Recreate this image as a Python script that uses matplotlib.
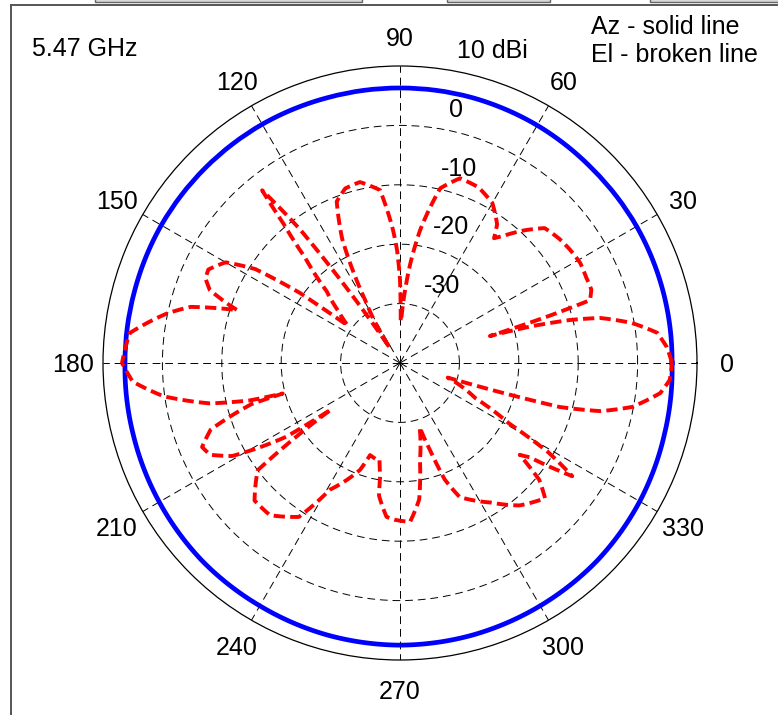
import numpy as np
import matplotlib
matplotlib.use("Agg")
import matplotlib.pyplot as plt
from matplotlib.lines import Line2D
from matplotlib.patches import Rectangle

plt.rcParams['font.family'] = ['Liberation Sans', 'DejaVu Sans']

# ---------------- data ----------------
az_angles_deg = [0, 15, 30, 45, 60, 75, 90, 105, 120, 135, 150, 165,
                 180, 195, 210, 225, 240, 255, 270, 285, 300, 315, 330, 345]
az_gain_dbi = [5.8, 5.9, 6.0, 6.0, 6.2, 6.3, 6.3, 6.3, 6.4, 6.4, 6.4, 6.3,
               6.3, 6.5, 6.8, 7.1, 7.2, 7.4, 7.5, 7.4, 7.2, 7.0, 6.6, 6.1]

el_angles_deg = [0, 3.4, 6.7, 9.8, 12.7, 14.2, 15.6, 16.7, 17.5, 18.3, 21, 24.7,
                 29, 33.6, 38, 43, 47, 51, 53, 55, 60, 66, 72, 77, 81.4, 84, 86,
                 88, 89, 90, 91.5, 93, 96.6, 102.5, 107.4, 111.4, 115, 119, 122,
                 124, 125.5, 126.8, 128.6, 129.9, 132, 135.6, 140, 144.4, 145,
                 147, 150, 154, 156.5, 159, 161, 162, 165, 168, 173.7, 180, 184,
                 188, 192, 194, 194.6, 195.5, 199.4, 203, 205.8, 209, 211, 213,
                 214, 215.5, 217, 223.4, 229.5, 236.7, 241, 249.5, 252, 256, 258,
                 260, 261, 265, 268, 273.6, 278, 281.6, 287, 289, 291, 294, 303,
                 310, 317, 320, 322.5, 324, 326.7, 329, 331, 335, 343, 344.6,
                 346.5, 349.3, 353.4, 356.4]
el_gain_dbi = [5.8, 5.0, 3.6, -0.4, -5.5, -10.5, -17, -24.2, -14, -6.3, -5.5, -5.5,
               -5.3, -5.6, -6.0, -6.7, -9.5, -12.5, -13.7, -11.5, -8.9, -7.6, -7.3,
               -9.8, -17.4, -23, -27.7, -32, -33, -26, -21, -17.6, -10.7, -8.8,
               -9.2, -10.8, -17, -27.9, -33, -37, -24, -12, -2.8, -9.4, -16.1,
               -22.7, -26.5, -29.2, -19.5, -11, -6.1, -4.1, -4.3, -5.7, -9.2,
               -11.2, -3.5, 0.1, 5.8, 6.8, 5.1, 0.2, -7.3, -14, -19.6, -14, -6.2,
               -3.8, -4.5, -7.7, -12.4, -17.3, -26, -18, -10, -6.3, -6.3, -9.0,
               -15.6, -20.8, -23.7, -23.3, -23.4, -20.8, -17.4, -14, -13.6, -13.2,
               -16.8, -23.3, -28.7, -24.5, -19, -15.3, -12, -8.7, -6.6, -9.4,
               -14.6, -13, -5.3, -11, -19, -26, -31.6, -12.1, -5.3, -0.2, 4.1, 5.5]

ring_values = [-30, -20, -10, 0]
ring_labels = ['-30', '-20', '-10', '0']
outer_label = '10 dBi'
r_min, r_max = -40, 10
spoke_angles = list(range(0, 360, 30))
spoke_labels = [str(a) for a in spoke_angles]

freq_text = '5.47 GHz'
legend_lines = ['Az - solid line', 'El - broken line']

# ---------------- figure ----------------
W, H = 778, 715
dpi = 100
fig = plt.figure(figsize=(W / dpi, H / dpi), dpi=dpi)
fig.patch.set_facecolor('white')

cx, cy, R = 400, 363, 297  # pixel geometry of the polar area
ax = fig.add_axes([(cx - R) / W, (H - cy - R) / H, 2 * R / W, 2 * R / H],
                  projection='polar')
ax.set_theta_zero_location('E')
ax.set_theta_direction(1)
ax.set_rlim(r_min, r_max)
ax.set_facecolor('white')

grid_kw = dict(color='black', lw=0.7, ls=(0, (8, 5)))
ax.set_thetagrids(spoke_angles, labels=[''] * len(spoke_angles))
ax.set_rgrids(ring_values, labels=[''] * len(ring_values))
ax.grid(True, **grid_kw)
ax.spines['polar'].set_color('black')
ax.spines['polar'].set_linewidth(0.9)
ax.tick_params(axis='both', length=0)

def closed(a, v):
    t = np.deg2rad(np.asarray(a + [a[0] + 360], dtype=float))
    return t, np.asarray(v + [v[0]], dtype=float)

t_az, r_az = closed(az_angles_deg, az_gain_dbi)
ln_az, = ax.plot(t_az, r_az, color='#0000ff', lw=3.4, solid_joinstyle='round', zorder=5)
ln_az.get_path()._interpolation_steps = 40

t_el, r_el = closed(el_angles_deg, el_gain_dbi)
ln_el, = ax.plot(t_el, r_el, color='#ff0000', lw=2.8, ls=(0, (2.9, 1.35)), zorder=6)
ln_el.get_path()._interpolation_steps = 12

fs = 18
label_r = r_min + 1.1 * (r_max - r_min)
for ang, lab in zip(spoke_angles, spoke_labels):
    ax.text(np.deg2rad(ang), label_r, lab, ha='center', va='center_baseline',
            fontsize=fs, clip_on=False)

for val, lab in zip(ring_values + [r_max], ring_labels + [outer_label]):
    ax.annotate(lab, xy=(np.deg2rad(82), val), xytext=(16, 11),
                textcoords='offset pixels', ha='left', va='baseline',
                fontsize=fs, annotation_clip=False)

fig.text(32 / W, 1 - 47 / H, freq_text, ha='left', va='center_baseline', fontsize=fs)
fig.text(591 / W, 1 - 25 / H, legend_lines[0], ha='left', va='center_baseline', fontsize=fs)
fig.text(591 / W, 1 - 52 / H, legend_lines[1], ha='left', va='center_baseline', fontsize=fs)

# window frame
frame_c = '#555555'
fig.add_artist(Line2D([11 / W, 11 / W], [0, 1 - 4.5 / H], color=frame_c, lw=1.4,
                      transform=fig.transFigure))
fig.add_artist(Line2D([11 / W, 1], [1 - 4.5 / H, 1 - 4.5 / H], color=frame_c, lw=1.4,
                      transform=fig.transFigure))
for x0, x1 in [(95, 362), (447, 550), (650, 790)]:
    fig.add_artist(Rectangle((x0 / W, 1 - 2 / H), (x1 - x0) / W, 6 / H,
                             facecolor='#d8d8d8', edgecolor='#666666', lw=1.0,
                             transform=fig.transFigure, clip_on=False))

fig.savefig('out.png', dpi=dpi, facecolor='white')
